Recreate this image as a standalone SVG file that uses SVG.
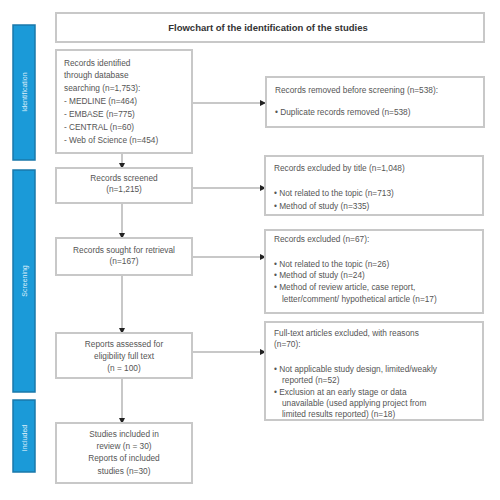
<svg xmlns="http://www.w3.org/2000/svg" width="500" height="500" viewBox="0 0 500 500">
<defs>
<marker id="ah" markerWidth="6" markerHeight="6" refX="5" refY="3" orient="auto" markerUnits="userSpaceOnUse">
<path d="M0,0 L6,3 L0,6 z" fill="#222"/>
</marker>
<style>
.box{fill:#fff;stroke:#c8c8c8;stroke-width:2}
.bar{fill:#1b9ad8;stroke:#1a78aa;stroke-width:1.5}
.t{font-family:"Liberation Sans",Arial,sans-serif;font-size:8.3px;fill:#555}
.c{text-anchor:middle}
.h{font-family:"Liberation Sans",Arial,sans-serif;font-size:9.5px;font-weight:bold;fill:#333;text-anchor:middle}
.pl{font-family:"Liberation Sans",Arial,sans-serif;font-size:7px;fill:#dceefa;text-anchor:middle}
.ln{stroke:#c8c8c8;stroke-width:2;fill:none;marker-end:url(#ah)}
</style>
</defs>
<rect width="500" height="500" fill="#fff"/>

<g id="phase-identification">
<rect class="bar" x="13" y="25" width="22" height="135"/>
<text class="pl" transform="translate(27,92) rotate(-90)">Identification</text>
</g>
<g id="phase-screening">
<rect class="bar" x="13" y="170" width="22" height="222"/>
<text class="pl" transform="translate(27,281) rotate(-90)">Screening</text>
</g>
<g id="phase-included">
<rect class="bar" x="13" y="400" width="22" height="72"/>
<text class="pl" transform="translate(27,438) rotate(-90)">Included</text>
</g>

<g id="header">
<rect class="box" x="56" y="13" width="428" height="29"/>
<text class="h" x="268" y="31">Flowchart of the identification of the studies</text>
</g>

<g id="connectors">
<line class="ln" x1="122" y1="153" x2="122" y2="168"/>
<line class="ln" x1="122" y1="203" x2="122" y2="238"/>
<line class="ln" x1="122" y1="275" x2="122" y2="333"/>
<line class="ln" x1="122" y1="378" x2="122" y2="423"/>
<line class="ln" x1="192" y1="103" x2="265" y2="103"/>
<line class="ln" x1="192" y1="188" x2="265" y2="188"/>
<line class="ln" x1="192" y1="257" x2="265" y2="257"/>
<line class="ln" x1="192" y1="352" x2="265" y2="352"/>
</g>

<g id="identified">
<rect class="box" x="56" y="50" width="136" height="103"/>
<text class="t" x="64" y="66">Records identified</text>
<text class="t" x="64" y="78">through database</text>
<text class="t" x="64" y="91">searching (n=1,753):</text>
<text class="t" x="64" y="104">- MEDLINE (n=464)</text>
<text class="t" x="64" y="117">- EMBASE (n=775)</text>
<text class="t" x="64" y="130">- CENTRAL (n=60)</text>
<text class="t" x="64" y="143">- Web of Science (n=454)</text>
</g>

<g id="removed">
<rect class="box" x="266" y="77" width="218" height="50"/>
<text class="t" x="275" y="93">Records removed before screening (n=538):</text>
<text class="t" x="275" y="115">•  Duplicate records removed (n=538)</text>
</g>

<g id="screened">
<rect class="box" x="56" y="168" width="136" height="35"/>
<text class="t c" x="124" y="181">Records screened</text>
<text class="t c" x="124" y="192">(n=1,215)</text>
</g>

<g id="excluded-title">
<rect class="box" x="265" y="156" width="218" height="59"/>
<text class="t" x="274" y="171">Records excluded by title (n=1,048)</text>
<text class="t" x="274" y="196">•  Not related to the topic (n=713)</text>
<text class="t" x="274" y="209">•  Method of study (n=335)</text>
</g>

<g id="retrieval">
<rect class="box" x="56" y="238" width="136" height="37"/>
<text class="t c" x="124" y="253">Records sought for retrieval</text>
<text class="t c" x="124" y="264">(n=167)</text>
</g>

<g id="excluded">
<rect class="box" x="265" y="230" width="218" height="83"/>
<text class="t" x="274" y="242">Records excluded (n=67):</text>
<text class="t" x="274" y="267">•  Not related to the topic (n=26)</text>
<text class="t" x="274" y="278">•  Method of study (n=24)</text>
<text class="t" x="274" y="290">•  Method of review article, case report,</text>
<text class="t" x="282" y="302">letter/comment/ hypothetical article (n=17)</text>
</g>

<g id="eligibility">
<rect class="box" x="56" y="333" width="136" height="45"/>
<text class="t c" x="124" y="347">Reports assessed for</text>
<text class="t c" x="124" y="359">eligibility full text</text>
<text class="t c" x="124" y="371">(n = 100)</text>
</g>

<g id="fulltext-excluded">
<rect class="box" x="265" y="322" width="218" height="98"/>
<text class="t" x="274" y="336">Full-text articles excluded, with reasons</text>
<text class="t" x="274" y="347">(n=70):</text>
<text class="t" x="274" y="372">•  Not applicable study design, limited/weakly</text>
<text class="t" x="282" y="383">reported (n=52)</text>
<text class="t" x="274" y="395">•  Exclusion at an early stage or data</text>
<text class="t" x="282" y="406">unavailable (used applying project from</text>
<text class="t" x="282" y="417">limited results reported) (n=18)</text>
</g>

<g id="included">
<rect class="box" x="56" y="423" width="136" height="60"/>
<text class="t c" x="124" y="437">Studies included in</text>
<text class="t c" x="124" y="449">review (n = 30)</text>
<text class="t c" x="124" y="461">Reports of included</text>
<text class="t c" x="124" y="474">studies (n=30)</text>
</g>
</svg>
